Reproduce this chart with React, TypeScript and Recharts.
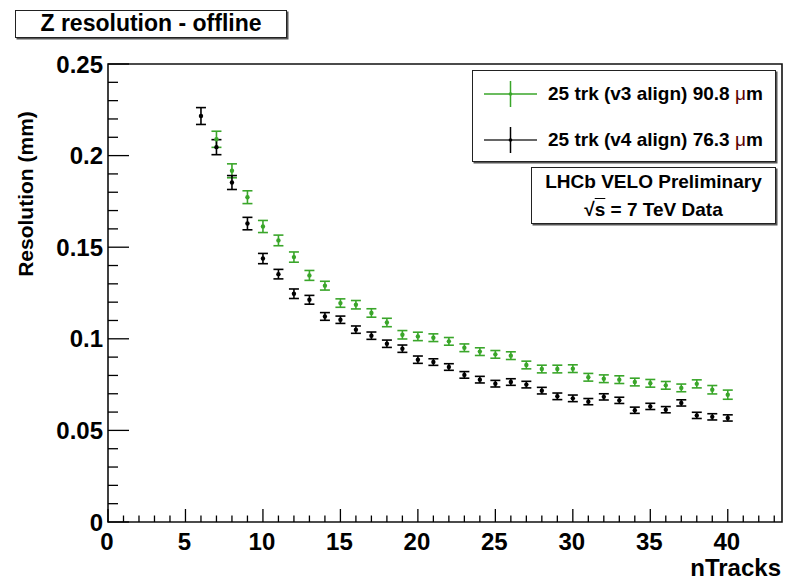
import { ScatterChart, Scatter, XAxis, YAxis, ErrorBar, ReferenceArea, Legend } from 'recharts';

// nTracks bins and per-bin resolution (mm)
const tracksV4 = [6, 7, 8, 9, 10, 11, 12, 13, 14, 15, 16, 17, 18, 19, 20, 21, 22, 23, 24, 25, 26, 27, 28, 29, 30, 31, 32, 33, 34, 35, 36, 37, 38, 39, 40];
const resV4 = [
  0.2216, 0.2046, 0.1853, 0.1629, 0.1438, 0.1353, 0.1246, 0.1213, 0.1122, 0.1104,
  0.105, 0.1017, 0.0973, 0.0946, 0.0886, 0.0873, 0.0846, 0.0803, 0.0777, 0.0755,
  0.0764, 0.075, 0.0717, 0.0686, 0.0675, 0.0657, 0.0683, 0.0664, 0.061, 0.0631,
  0.0613, 0.065, 0.0582, 0.0574, 0.0568,
];
const errV4 = [
  0.0046, 0.0041, 0.0038, 0.0034, 0.0028, 0.0026, 0.0026, 0.0024, 0.0021, 0.002,
  0.002, 0.002, 0.002, 0.002, 0.002, 0.0018, 0.0018, 0.0018, 0.0018, 0.0018,
  0.0018, 0.0018, 0.0018, 0.0018, 0.0018, 0.0017, 0.0017, 0.0017, 0.0017, 0.0017,
  0.0017, 0.0017, 0.0017, 0.0017, 0.0017,
];

const tracksV3 = [7, 8, 9, 10, 11, 12, 13, 14, 15, 16, 17, 18, 19, 20, 21, 22, 23, 24, 25, 26, 27, 28, 29, 30, 31, 32, 33, 34, 35, 36, 37, 38, 39, 40];
const resV3 = [
  0.2089, 0.1917, 0.1773, 0.1613, 0.1537, 0.1446, 0.1346, 0.129, 0.1195, 0.1186,
  0.1141, 0.1089, 0.1022, 0.1013, 0.1006, 0.0986, 0.0951, 0.093, 0.0915, 0.0908,
  0.0857, 0.0835, 0.0835, 0.0837, 0.079, 0.0782, 0.0777, 0.0764, 0.0757, 0.0746,
  0.0732, 0.0754, 0.0722, 0.0695,
];
const errV3 = [
  0.0044, 0.0038, 0.0035, 0.0033, 0.0029, 0.0028, 0.0027, 0.0024, 0.0023, 0.0023,
  0.0023, 0.0023, 0.0023, 0.0023, 0.0021, 0.0021, 0.0021, 0.0021, 0.0021, 0.0021,
  0.0021, 0.0021, 0.0021, 0.0021, 0.0021, 0.0021, 0.0021, 0.0021, 0.0021, 0.0021,
  0.0021, 0.0022, 0.0023, 0.0025,
];

const xMajorTicks = [0, 5, 10, 15, 20, 25, 30, 35, 40];
const yMajorTicks = [0, 0.05, 0.1, 0.15, 0.2, 0.25];
const xTicks = Array.from({ length: 44 }, (_, i) => i);
const yTicks = Array.from({ length: 26 }, (_, i) => i / 100);

const GREEN = '#3aa62a';
const BLACK = '#000';
const FONT = '"Liberation Sans", Arial, Helvetica, sans-serif';

const legendItems = [
  { label: '25 trk (v3 align) 90.8 ', color: GREEN },
  { label: '25 trk (v4 align) 76.3 ', color: BLACK },
];

const v3Data = tracksV3.map((x, i) => ({ x, y: resV3[i], err: errV3[i] }));
const v4Data = tracksV4.map((x, i) => ({ x, y: resV4[i], err: errV4[i] }));

const isMajor = (list: number[], v: number) => list.some((m) => Math.abs(m - v) < 1e-6);

const YTick = (props: any) => {
  const { x, y, payload } = props;
  const major = isMajor(yMajorTicks, payload.value);
  return (
    <g>
      <line x1={x} x2={x + (major ? 21 : 10)} y1={y} y2={y} stroke="#000" strokeWidth={1.3} />
      {major && (
        <text x={x - 5} y={y} dy="0.36em" textAnchor="end" fontFamily={FONT} fontWeight="bold" fontSize={24} fill="#000">
          {String(+payload.value.toFixed(2))}
        </text>
      )}
    </g>
  );
};

const XTick = (props: any) => {
  const { x, y, payload } = props;
  const major = isMajor(xMajorTicks, payload.value);
  return (
    <g>
      <line x1={x} x2={x} y1={y} y2={y - (major ? 13 : 6.5)} stroke="#000" strokeWidth={1.3} />
      {major && (
        <text x={x - 1} y={y + 28} textAnchor="middle" fontFamily={FONT} fontWeight="bold" fontSize={24} fill="#000">
          {payload.value}
        </text>
      )}
    </g>
  );
};

const dot = (color: string) => (props: any) => <circle cx={props.cx} cy={props.cy} r={2.2} fill={color} />;

const boxStyle: React.CSSProperties = {
  position: 'absolute',
  boxSizing: 'border-box',
  background: '#fff',
  border: '1.5px solid #222',
  boxShadow: '1.5px 1.5px 0 #555',
  fontFamily: FONT,
  fontWeight: 'bold',
  color: '#000',
};

const renderLegend = () => (
  <div style={{ ...boxStyle, position: 'relative', width: 304, height: 92 }}>
    {legendItems.map((item, i) => (
      <div key={item.label} style={{ position: 'absolute', left: 0, top: 10 + i * 46, height: 26, width: '100%' }}>
        <svg width={60} height={26} style={{ position: 'absolute', left: 10, top: 0 }}>
          <line x1={1} x2={54} y1={13} y2={13} stroke={item.color === BLACK ? '#333' : item.color} strokeWidth={1.5} />
          <line x1={27.5} x2={27.5} y1={0} y2={26} stroke={item.color} strokeWidth={1.5} />
          <circle cx={27.5} cy={13} r={1.8} fill={item.color} />
        </svg>
        <span style={{ position: 'absolute', left: 75, top: 0, lineHeight: '26px', fontSize: 19, whiteSpace: 'nowrap' }}>
          {item.label}
          <span style={{ fontWeight: 'normal', color: '#5a0000' }}>μ</span>m
        </span>
      </div>
    ))}
  </div>
);

export default function App() {
  return (
    <div style={{ position: 'absolute', left: 0, top: 0, width: 787, height: 582, background: '#fff' }}>
      <ScatterChart width={787} height={582} margin={{ top: 64, right: 5, bottom: 20, left: 0 }}>
        <XAxis
          type="number"
          dataKey="x"
          domain={[0, 43.5]}
          ticks={xTicks}
          interval={0}
          tickSize={0}
          tickMargin={0}
          axisLine={false}
          tickLine={false}
          tick={<XTick />}
          height={40}
          label={{
            content: () => (
              <text x={781} y={576} textAnchor="end" fontFamily={FONT} fontWeight="bold" fontSize={24} fill="#000">
                nTracks
              </text>
            ),
          }}
        />
        <YAxis
          type="number"
          dataKey="y"
          domain={[0, 0.25]}
          ticks={yTicks}
          interval={0}
          tickSize={0}
          tickMargin={0}
          axisLine={false}
          tickLine={false}
          tick={<YTick />}
          width={108}
          label={{
            content: () => (
              <text
                x={33}
                y={194}
                transform="rotate(-90 33 194)"
                textAnchor="middle"
                fontFamily={FONT}
                fontWeight="bold"
                fontSize={21}
                fill="#000"
              >
                Resolution (mm)
              </text>
            ),
          }}
        />
        <ReferenceArea x1={0} x2={43.5} y1={0} y2={0.25} fill="none" stroke="#111" strokeWidth={1.6} ifOverflow="visible" />
        <Scatter name="v3" data={v3Data} fill={GREEN} shape={dot(GREEN)} isAnimationActive={false}>
          <ErrorBar dataKey="err" direction="y" width={5} strokeWidth={1.6} stroke={GREEN} isAnimationActive={false} />
        </Scatter>
        <Scatter name="v4" data={v4Data} fill={BLACK} shape={dot(BLACK)} isAnimationActive={false}>
          <ErrorBar dataKey="err" direction="y" width={5} strokeWidth={1.6} stroke={BLACK} isAnimationActive={false} />
        </Scatter>
        <Legend
          layout="horizontal"
          verticalAlign="middle"
          align="center"
          content={renderLegend}
          wrapperStyle={{ left: 472, top: 70, width: 304, height: 92 }}
        />
      </ScatterChart>

      <div
        style={{
          ...boxStyle,
          left: 15,
          top: 10,
          width: 272,
          height: 28,
          fontSize: 23,
          lineHeight: '25px',
          textAlign: 'center',
        }}
      >
        Z resolution - offline
      </div>

      <div
        style={{
          ...boxStyle,
          left: 531,
          top: 167,
          width: 245,
          height: 57,
          fontSize: 19,
          lineHeight: '28px',
          textAlign: 'center',
        }}
      >
        <div>LHCb VELO Preliminary</div>
        <div>
          √<span style={{ textDecoration: 'overline' }}>s</span> = 7 TeV Data
        </div>
      </div>
    </div>
  );
}
